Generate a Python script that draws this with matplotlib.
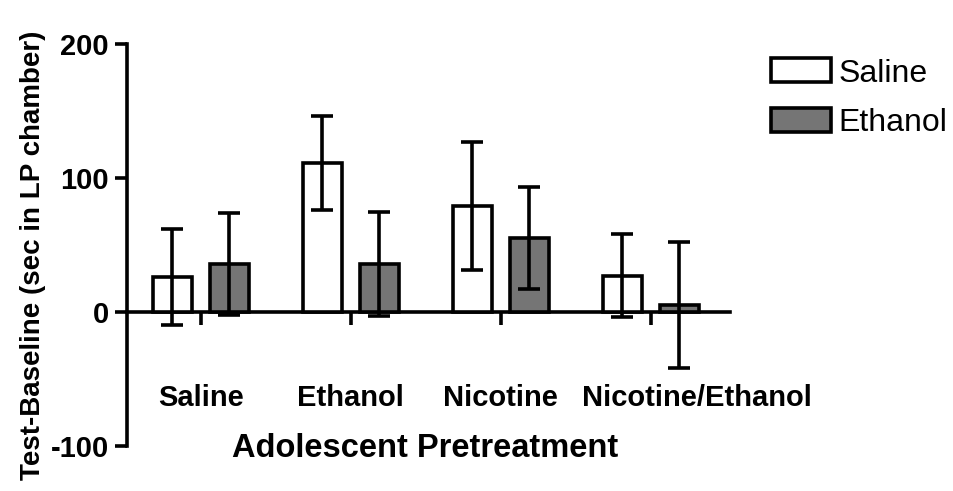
import numpy as np
import matplotlib
matplotlib.use("Agg")
import matplotlib.pyplot as plt

plt.rcParams['font.family'] = ['Liberation Sans', 'DejaVu Sans']

# data (mean and SEM)
groups = ['Saline', 'Ethanol', 'Nicotine', 'Nicotine/Ethanol']
saline_mean = [26, 111, 79, 27]
saline_err = [36, 35, 48, 31]
ethanol_mean = [36, 36, 55, 5]
ethanol_err = [38, 39, 38, 47]
series_names = ['Saline', 'Ethanol']
yticks = [-100, 0, 100, 200]

LW = 2.6
x = np.arange(len(groups))
w = 0.26
off = 0.19

fig = plt.figure(figsize=(9.54, 4.91), dpi=100)
ax = fig.add_axes([0.1331, 0.0916, 0.632, 0.8187])

err_kw = dict(ecolor='black', elinewidth=LW, capsize=8, capthick=LW)
b1 = ax.bar(x - off, saline_mean, w, yerr=saline_err, color='white',
            edgecolor='black', linewidth=LW, label=series_names[0], error_kw=err_kw, zorder=3)
b2 = ax.bar(x + off, ethanol_mean, w, yerr=ethanol_err, color='#757575',
            edgecolor='black', linewidth=LW, label=series_names[1], error_kw=err_kw, zorder=3)

ax.set_xlim(-0.493, 3.527)
ax.set_ylim(-100, 200)
ax.set_yticks(yticks)
ax.set_yticklabels([str(t) for t in yticks], fontsize=21, fontweight='bold')
ax.set_xticks(x)
ax.set_xticklabels([])

for s in ['top', 'right']:
    ax.spines[s].set_visible(False)
ax.spines['bottom'].set_position(('data', 0))
ax.spines['bottom'].set_linewidth(LW)
ax.spines['left'].set_linewidth(LW)
ax.tick_params(axis='y', width=LW, length=9, pad=4)
ax.tick_params(axis='x', width=LW, length=9, direction='out')

# group labels under the axis
label_x = [0, 1, 2, 3.31]
for lx, g in zip(label_x, groups):
    ax.text(lx, -64, g, ha='center', va='center', fontsize=21, fontweight='bold')

fig.text(0.446, 0.087, 'Adolescent Pretreatment', ha='center', va='center',
         fontsize=23.5, fontweight='bold')
fig.text(0.035, 0.48, 'Test-Baseline (sec in LP chamber)', ha='center', va='center',
         rotation=90, fontsize=20, fontweight='bold')

leg = fig.legend(handles=[b1, b2], labels=series_names, loc='upper left',
                 bbox_to_anchor=(0.808, 0.881), frameon=False, fontsize=23,
                 handlelength=1.88, handleheight=0.78, handletextpad=0.25,
                 labelspacing=0.62, borderpad=0, borderaxespad=0)

fig.savefig('out.png', dpi=100)
